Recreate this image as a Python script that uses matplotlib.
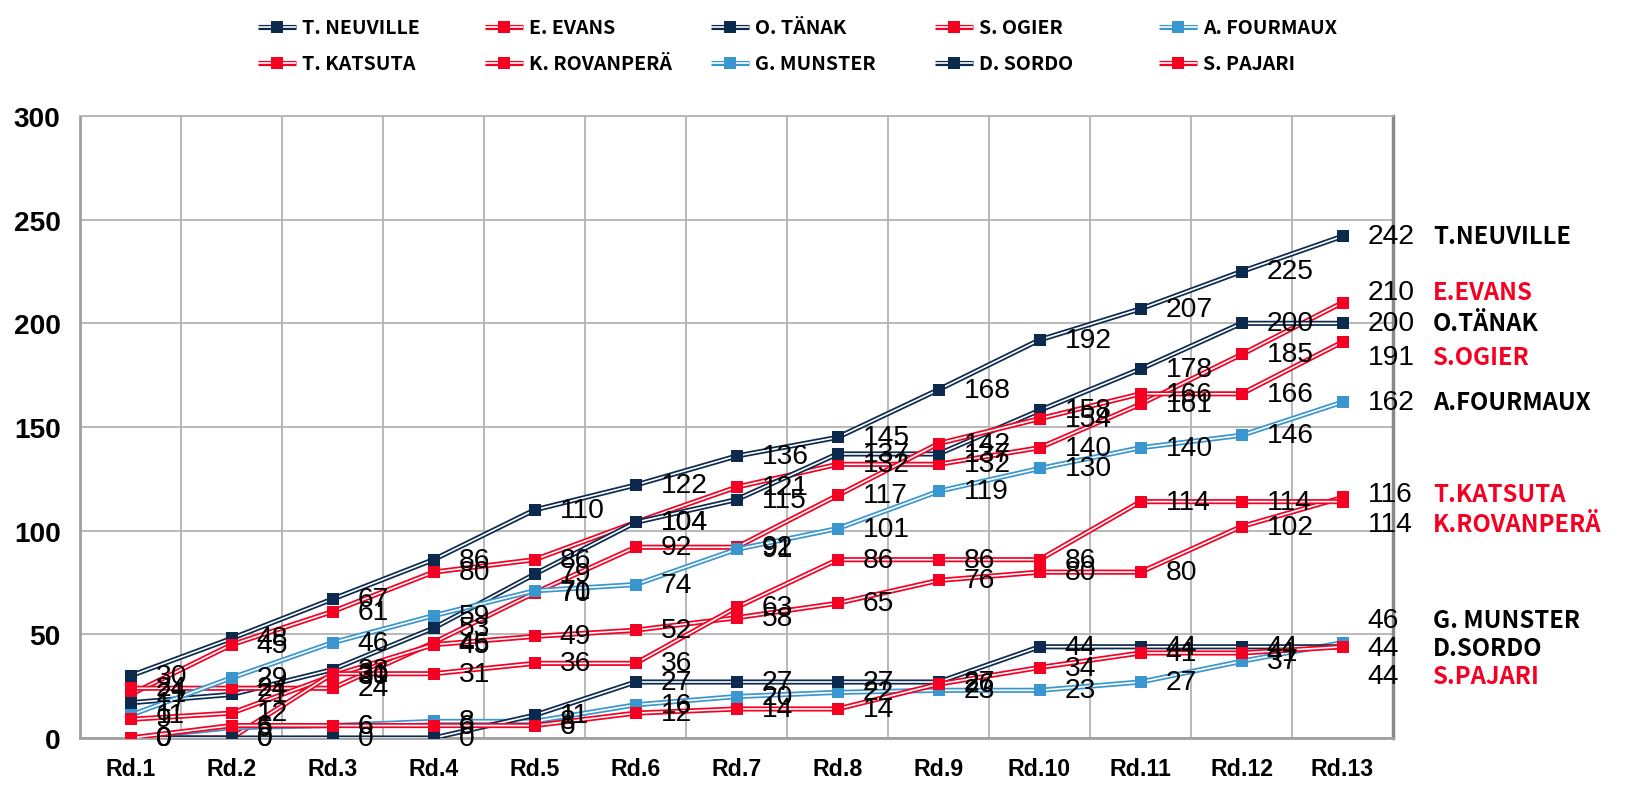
import matplotlib
matplotlib.use('Agg')
import matplotlib.pyplot as plt
from matplotlib import font_manager as fm
from matplotlib.lines import Line2D
import numpy as np

# ---------------- data ----------------
rounds = ['Rd.1', 'Rd.2', 'Rd.3', 'Rd.4', 'Rd.5', 'Rd.6', 'Rd.7',
          'Rd.8', 'Rd.9', 'Rd.10', 'Rd.11', 'Rd.12', 'Rd.13']

legend_names = ['T. NEUVILLE', 'E. EVANS', 'O. TÄNAK', 'S. OGIER', 'A. FOURMAUX',
                'T. KATSUTA', 'K. ROVANPERÄ', 'G. MUNSTER', 'D. SORDO', 'S. PAJARI']
end_names = ['T.NEUVILLE', 'E.EVANS', 'O.TÄNAK', 'S.OGIER', 'A.FOURMAUX',
             'T.KATSUTA', 'K.ROVANPERÄ', 'G. MUNSTER', 'D.SORDO', 'S.PAJARI']

neuville  = [30, 48, 67, 86, 110, 122, 136, 145, 168, 192, 207, 225, 242]
evans     = [21, 45, 61, 80, 86, 104, 121, 132, 132, 140, 161, 185, 210]
tanak     = [17, 21, 33, 53, 79, 104, 115, 137, 137, 158, 178, 200, 200]
ogier     = [24, 24, 24, 46, 70, 92, 92, 117, 142, 154, 166, 166, 191]
fourmaux  = [11, 29, 46, 59, 71, 74, 91, 101, 119, 130, 140, 146, 162]
katsuta   = [9, 12, 30, 45, 49, 52, 58, 65, 76, 80, 80, 102, 116]
rovanpera = [0, 0, 31, 31, 36, 36, 63, 86, 86, 86, 114, 114, 114]
munster   = [0, 5, 6, 8, 8, 16, 20, 22, 23, 23, 27, 37, 46]
sordo     = [0, 0, 0, 0, 11, 27, 27, 27, 27, 44, 44, 44, 44]
pajari    = [0, 6, 6, 6, 6, 12, 14, 14, 26, 34, 41, 41, 44]

series = [neuville, evans, tanak, ogier, fourmaux,
          katsuta, rovanpera, munster, sordo, pajari]
teams = ['hyundai', 'toyota', 'hyundai', 'toyota', 'ford',
         'toyota', 'toyota', 'ford', 'hyundai', 'toyota']

# ---------------- style ----------------
NAVY = '#0C2A4E'
RED = '#F50022'
LBLUE = '#3A96CE'
team_color = {'hyundai': NAVY, 'toyota': RED, 'ford': LBLUE}
name_color = {'hyundai': 'black', 'toyota': RED, 'ford': 'black'}

# vertical positions (data units) of the stacked end-of-line labels (layout only)
end_label_y = [242, 215, 200, 184, 162, 117.5, 103, 57, 43.5, 30]

installed = {f.name for f in fm.fontManager.ttflist}


def pick(*cands):
    for c in cands:
        if c in installed:
            return c
    return 'DejaVu Sans'


NARROW = pick('Liberation Sans Narrow', 'Noto Sans CJK JP', 'Liberation Sans')
NUMF = pick('Liberation Sans', 'Arimo', 'DejaVu Sans')

W, H = 1627, 803
fig = plt.figure(figsize=(W / 100, H / 100), dpi=100)
renderer = fig.canvas.get_renderer()


def fit_size(text, target_px, family, weight='normal'):
    t = fig.text(0, 0, text, fontsize=20, family=family, weight=weight)
    w = t.get_window_extent(renderer).width
    t.remove()
    return 20 * target_px / w


fs_label = fit_size('242', 47, NUMF)
fs_names = fit_size('A.FOURMAUX', 158, NARROW, 'bold')
fs_legend = fit_size('T. NEUVILLE', 118, NARROW, 'bold')
fs_xtick = fit_size('Rd.13', 63, NUMF, 'bold')
fs_ytick = fit_size('300', 47, NUMF, 'bold')

ax_left, ax_right = 80 / W, 1393 / W
ax_bottom, ax_top = (H - 739) / H, (H - 117) / H
ax = fig.add_axes([ax_left, ax_bottom, ax_right - ax_left, ax_top - ax_bottom])

x = np.arange(len(rounds))
LW_OUT, LW_IN, MS = 3.7, 1.2, 9.3

for i, vals in enumerate(series):
    c = team_color[teams[i]]
    z = 3 + i * 0.1
    ax.plot(x, vals, color=c, lw=LW_OUT, zorder=z, solid_capstyle='butt')
    ax.plot(x, vals, color='white', lw=LW_IN, zorder=z + 0.01, solid_capstyle='butt')
    ax.plot(x, vals, ls='none', marker='s', ms=MS, mfc=c, mec=c, mew=0, zorder=z + 0.02)

# data labels (all rounds except the last, which gets the stacked end labels)
for i, vals in enumerate(series):
    for j in range(len(rounds) - 1):
        ax.annotate(str(vals[j]), (x[j], vals[j]), xytext=(18, 0),
                    textcoords='offset points', ha='left', va='center',
                    fontsize=fs_label, family=NUMF, color='black', zorder=10)

# end labels: value + driver name
for i, vals in enumerate(series):
    ax.annotate(str(vals[-1]), (x[-1], end_label_y[i]), xytext=(18, 0),
                textcoords='offset points', ha='left', va='center',
                fontsize=fs_label, family=NUMF, color='black',
                annotation_clip=False, zorder=10)
    ax.annotate(end_names[i], (x[-1], end_label_y[i]), xytext=(65, 0),
                textcoords='offset points', ha='left', va='center',
                fontsize=fs_names, family=NARROW, weight='bold',
                color=name_color[teams[i]], annotation_clip=False, zorder=10)

ax.set_xlim(-0.5, len(rounds) - 0.5)
ax.set_ylim(0, 300)
ax.set_xticks(x)
ax.set_xticklabels(rounds, fontsize=fs_xtick, family=NUMF, weight='bold')
ax.set_xticks(np.arange(-0.5, len(rounds), 1), minor=True)
ax.set_yticks(np.arange(0, 301, 50))
ax.set_yticklabels([str(v) for v in range(0, 301, 50)], fontsize=fs_ytick,
                   family=NUMF, weight='bold')
ax.tick_params(axis='both', which='both', length=0)
ax.tick_params(axis='x', pad=14)
ax.tick_params(axis='y', pad=14)
ax.grid(which='minor', axis='x', color='#B3B3B3', lw=1.3, zorder=0)
ax.grid(which='major', axis='y', color='#B3B3B3', lw=1.3, zorder=0)
ax.set_axisbelow(True)
for s in ['left', 'bottom']:
    ax.spines[s].set_color('#A0A0A0')
    ax.spines[s].set_linewidth(2.0)
ax.spines['right'].set_color('#888888')
ax.spines['right'].set_linewidth(2.5)
ax.spines['top'].set_color('#B3B3B3')
ax.spines['top'].set_linewidth(1.3)

# manual legend: 2 rows x 5 columns
leg_x = [258, 485, 711, 935, 1159]
leg_y = [28, 64]
HL = 38
for i, name in enumerate(legend_names):
    r, cidx = divmod(i, 5)
    c = team_color[teams[i]]
    x0 = leg_x[cidx] / W
    x1 = (leg_x[cidx] + HL) / W
    yy = 1 - leg_y[r] / H
    fig.add_artist(Line2D([x0, x1], [yy, yy], color=c, lw=LW_OUT,
                          transform=fig.transFigure, solid_capstyle='butt'))
    fig.add_artist(Line2D([x0, x1], [yy, yy], color='white', lw=LW_IN,
                          transform=fig.transFigure, solid_capstyle='butt'))
    fig.add_artist(Line2D([(x0 + x1) / 2], [yy], ls='none', marker='s', ms=8,
                          mfc=c, mec=c, mew=0, transform=fig.transFigure))
    fig.text((leg_x[cidx] + HL + 6) / W, yy, name, ha='left', va='center',
             fontsize=fs_legend, family=NARROW, weight='bold', color='black')

fig.savefig('out.png', dpi=100, facecolor='white')
